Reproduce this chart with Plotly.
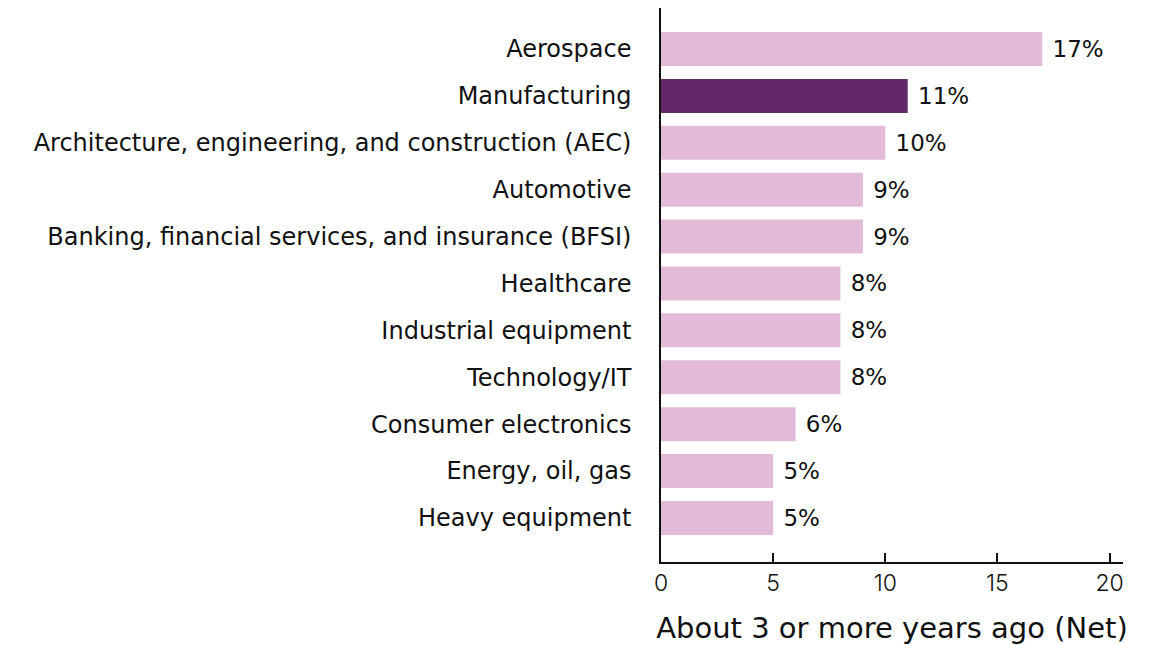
import plotly.graph_objects as go

industries = [
    "Aerospace",
    "Manufacturing",
    "Architecture, engineering, and construction (AEC)",
    "Automotive",
    "Banking, financial services, and insurance (BFSI)",
    "Healthcare",
    "Industrial equipment",
    "Technology/IT",
    "Consumer electronics",
    "Energy, oil, gas",
    "Heavy equipment",
]
share_pct = [17, 11, 10, 9, 9, 8, 8, 8, 6, 5, 5]
highlight = "Manufacturing"

x_ticks = [0, 5, 10, 15, 20]
x_title = "About 3 or more years ago (Net)"

LIGHT = "#E2BBD8"
DARK = "#632868"
FONT = "DejaVu Sans"

colors = [DARK if name == highlight else LIGHT for name in industries]

fig = go.Figure(
    go.Bar(
        x=share_pct,
        y=industries,
        orientation="h",
        marker=dict(color=colors, line=dict(width=0)),
        text=[f" {v}%" for v in share_pct],
        textposition="outside",
        textfont=dict(family=FONT, size=23, color="#111111"),
        cliponaxis=False,
    )
)

fig.update_layout(
    width=1159,
    height=645,
    margin=dict(l=661, r=36, t=8, b=83),
    plot_bgcolor="white",
    paper_bgcolor="white",
    bargap=0.275,
    showlegend=False,
    font=dict(family=FONT, color="#111111"),
)

fig.update_xaxes(
    range=[0, 20.6],
    tickvals=x_ticks,
    ticktext=[str(t) for t in x_ticks],
    showgrid=False,
    zeroline=False,
    showline=True,
    linecolor="#111111",
    linewidth=1.5,
    ticks="inside",
    ticklen=9,
    tickwidth=1.5,
    tickcolor="#111111",
    tickfont=dict(family="Inter", size=23, color="#111111", weight=300),
    title=dict(text=x_title, font=dict(family=FONT, size=29, color="#111111"), standoff=24),
    automargin=False,
)

fig.update_yaxes(
    categoryorder="array",
    categoryarray=industries,
    range=[len(industries) - 1 + 0.94, -0.874],
    showgrid=False,
    zeroline=False,
    showline=True,
    linecolor="#111111",
    linewidth=1.5,
    ticks="",
    ticklabelstandoff=23,
    tickfont=dict(family=FONT, size=24, color="#111111"),
    automargin=False,
)

fig.write_html("out.html")
